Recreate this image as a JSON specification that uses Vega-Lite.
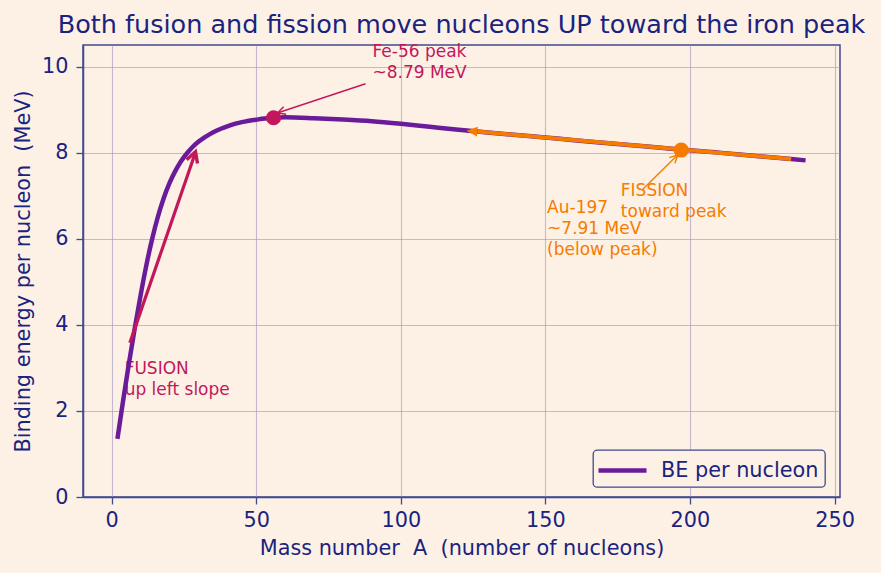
{
  "$schema": "https://vega.github.io/schema/vega-lite/v6.json",
  "width": 757,
  "height": 452,
  "autosize": {"type": "none"},
  "padding": {"left": 83, "top": 45, "right": 41, "bottom": 76},
  "background": "#fdf1e6",
  "title": {
    "text": "Both fusion and fission move nucleons UP toward the iron peak",
    "fontSize": 25.5,
    "font": "DejaVu Sans",
    "fontWeight": "normal",
    "color": "#1a237e",
    "anchor": "middle",
    "baseline": "bottom",
    "offset": 6,
    "dy": 26
  },
  "datasets": {
    "curve": [
      {"A": 2, "BE": 1.35}, {"A": 4, "BE": 2.25}, {"A": 6, "BE": 3.11}, {"A": 8, "BE": 3.92},
      {"A": 10, "BE": 4.68}, {"A": 12, "BE": 5.38}, {"A": 14, "BE": 5.99}, {"A": 16, "BE": 6.51},
      {"A": 18, "BE": 6.94}, {"A": 20, "BE": 7.29}, {"A": 22, "BE": 7.57}, {"A": 24, "BE": 7.80},
      {"A": 26, "BE": 7.98}, {"A": 28, "BE": 8.13}, {"A": 30, "BE": 8.25}, {"A": 32, "BE": 8.35},
      {"A": 34, "BE": 8.43}, {"A": 36, "BE": 8.50}, {"A": 38, "BE": 8.56}, {"A": 40, "BE": 8.61},
      {"A": 42, "BE": 8.655}, {"A": 44, "BE": 8.69}, {"A": 46, "BE": 8.72}, {"A": 48, "BE": 8.745},
      {"A": 50, "BE": 8.765}, {"A": 52, "BE": 8.785}, {"A": 54, "BE": 8.80}, {"A": 56, "BE": 8.81},
      {"A": 60, "BE": 8.82}, {"A": 70, "BE": 8.80}, {"A": 80, "BE": 8.77}, {"A": 90, "BE": 8.73},
      {"A": 100, "BE": 8.67}, {"A": 110, "BE": 8.60}, {"A": 120, "BE": 8.53}, {"A": 130, "BE": 8.47},
      {"A": 140, "BE": 8.41}, {"A": 150, "BE": 8.35}, {"A": 160, "BE": 8.29}, {"A": 170, "BE": 8.23},
      {"A": 180, "BE": 8.17}, {"A": 190, "BE": 8.115}, {"A": 197, "BE": 8.07}, {"A": 210, "BE": 8.0},
      {"A": 220, "BE": 7.94}, {"A": 230, "BE": 7.88}, {"A": 240, "BE": 7.82}
    ],
    "fissionArrow": [{"A": 235, "BE": 7.85}, {"A": 126.5, "BE": 8.49}],
    "fissionHead": [{"A": 122.7, "BE": 8.51}],
    "fusionArrow": [{"A": 6.3, "BE": 3.58}, {"A": 28.8, "BE": 7.97}],
    "fusionHead": [{"A": 29.0, "BE": 8.02}],
    "feArrow": [{"A": 87.8, "BE": 9.60}, {"A": 57.3, "BE": 8.92}],
    "feHead": [{"A": 57.3, "BE": 8.92}],
    "auArrow": [{"A": 183.7, "BE": 7.15}, {"A": 195.8, "BE": 7.95}],
    "auHead": [{"A": 195.8, "BE": 7.95}],
    "fePoint": [{"A": 56, "BE": 8.81}],
    "auPoint": [{"A": 197, "BE": 8.06}],
    "crimsonText": [
      {"A": 90.2, "BE": 10.22, "label": "Fe-56 peak\n~8.79 MeV"},
      {"A": 4.5, "BE": 2.85, "label": "FUSION\nup left slope"}
    ],
    "orangeText": [
      {"A": 176.1, "BE": 6.99, "label": "FISSION\ntoward peak"},
      {"A": 150.6, "BE": 6.59, "label": "Au-197\n~7.91 MeV\n(below peak)"}
    ]
  },
  "layer": [
    {
      "data": {"name": "crimsonText"},
      "mark": {"type": "text", "align": "left", "baseline": "alphabetic", "fontSize": 17, "lineBreak": "\n", "lineHeight": 21, "color": "#c2185b", "font": "DejaVu Sans"},
      "encoding": {
        "x": {"field": "A", "type": "quantitative", "scale": {"domain": [-9.9, 251.9], "nice": false, "zero": false},
              "axis": {"title": "Mass number\u00a0 A\u00a0 (number of nucleons)", "values": [0, 50, 100, 150, 200, 250], "grid": true}},
        "y": {"field": "BE", "type": "quantitative", "scale": {"domain": [0, 10.5], "nice": false, "zero": false},
              "axis": {"title": "Binding energy per nucleon\u00a0 (MeV)", "values": [0, 2, 4, 6, 8, 10], "grid": true}},
        "text": {"field": "label", "type": "nominal"}
      }
    },
    {
      "data": {"name": "orangeText"},
      "mark": {"type": "text", "align": "left", "baseline": "alphabetic", "fontSize": 17, "lineBreak": "\n", "lineHeight": 21, "color": "#f57c00", "font": "DejaVu Sans"},
      "encoding": {
        "x": {"field": "A", "type": "quantitative"},
        "y": {"field": "BE", "type": "quantitative"},
        "text": {"field": "label", "type": "nominal"}
      }
    },
    {
      "data": {"name": "curve"},
      "mark": {"type": "line", "strokeWidth": 4.5, "interpolate": "monotone", "strokeCap": "butt"},
      "encoding": {
        "x": {"field": "A", "type": "quantitative"},
        "y": {"field": "BE", "type": "quantitative"},
        "color": {
          "datum": "BE per nucleon",
          "scale": {"range": ["#6a1b9a"]},
          "legend": {
            "orient": "none", "legendX": 510, "legendY": 405, "title": null,
            "symbolType": "M-2,0H2", "symbolSize": 576, "symbolStrokeWidth": 4.5,
            "symbolOffset": 9, "labelOffset": 24, "labelFontSize": 20.8, "labelColor": "#1a237e",
            "labelFont": "DejaVu Sans",
            "fillColor": "#fdf1e6", "strokeColor": "#3f4a8f", "padding": 6, "cornerRadius": 4
          }
        }
      }
    },
    {
      "data": {"name": "fissionArrow"},
      "mark": {"type": "line", "strokeWidth": 4, "color": "#f57c00"},
      "encoding": {"x": {"field": "A", "type": "quantitative"}, "y": {"field": "BE", "type": "quantitative"}}
    },
    {
      "data": {"name": "fissionHead"},
      "mark": {"type": "point", "shape": "M0,0L-0.45,1L0.45,1Z", "size": 484, "filled": true, "opacity": 1, "color": "#f57c00", "angle": 275},
      "encoding": {"x": {"field": "A", "type": "quantitative"}, "y": {"field": "BE", "type": "quantitative"}}
    },
    {
      "data": {"name": "fusionArrow"},
      "mark": {"type": "line", "strokeWidth": 3.2, "color": "#c2185b"},
      "encoding": {"x": {"field": "A", "type": "quantitative"}, "y": {"field": "BE", "type": "quantitative"}}
    },
    {
      "data": {"name": "fusionHead"},
      "mark": {"type": "point", "shape": "M-0.55,1L0,0L0.55,1", "size": 440, "filled": false, "opacity": 1, "color": "#c2185b", "strokeWidth": 3.4, "angle": 19},
      "encoding": {"x": {"field": "A", "type": "quantitative"}, "y": {"field": "BE", "type": "quantitative"}}
    },
    {
      "data": {"name": "feArrow"},
      "mark": {"type": "line", "strokeWidth": 1.4, "color": "#c2185b"},
      "encoding": {"x": {"field": "A", "type": "quantitative"}, "y": {"field": "BE", "type": "quantitative"}}
    },
    {
      "data": {"name": "feHead"},
      "mark": {"type": "point", "shape": "M-0.5,1L0,0L0.5,1", "size": 256, "filled": false, "opacity": 1, "color": "#c2185b", "strokeWidth": 1.4, "angle": 251.6},
      "encoding": {"x": {"field": "A", "type": "quantitative"}, "y": {"field": "BE", "type": "quantitative"}}
    },
    {
      "data": {"name": "auArrow"},
      "mark": {"type": "line", "strokeWidth": 1.4, "color": "#f57c00"},
      "encoding": {"x": {"field": "A", "type": "quantitative"}, "y": {"field": "BE", "type": "quantitative"}}
    },
    {
      "data": {"name": "auHead"},
      "mark": {"type": "point", "shape": "M-0.5,1L0,0L0.5,1", "size": 256, "filled": false, "opacity": 1, "color": "#f57c00", "strokeWidth": 1.4, "angle": 45.3},
      "encoding": {"x": {"field": "A", "type": "quantitative"}, "y": {"field": "BE", "type": "quantitative"}}
    },
    {
      "data": {"name": "fePoint"},
      "mark": {"type": "point", "shape": "circle", "size": 230, "filled": true, "opacity": 1, "color": "#c2185b"},
      "encoding": {"x": {"field": "A", "type": "quantitative"}, "y": {"field": "BE", "type": "quantitative"}}
    },
    {
      "data": {"name": "auPoint"},
      "mark": {"type": "point", "shape": "circle", "size": 230, "filled": true, "opacity": 1, "color": "#f57c00"},
      "encoding": {"x": {"field": "A", "type": "quantitative"}, "y": {"field": "BE", "type": "quantitative"}}
    }
  ],
  "config": {
    "font": "DejaVu Sans",
    "view": {"stroke": "#3f4a8f", "strokeWidth": 1.5},
    "axis": {
      "labelFont": "DejaVu Sans", "titleFont": "DejaVu Sans",
      "labelFontSize": 20.8, "titleFontSize": 20.8,
      "labelColor": "#1a237e", "titleColor": "#1a237e", "titleFontWeight": "normal",
      "domainColor": "#3f4a8f", "domainWidth": 1.5,
      "tickColor": "#3f4a8f", "tickSize": 7, "tickWidth": 1.3,
      "gridColor": "#9d93bf", "gridOpacity": 0.6, "gridWidth": 1.1
    },
    "axisX": {"labelPadding": 6, "titlePadding": 9},
    "axisY": {"labelPadding": 8, "titlePadding": 8},
    "legend": {"strokeWidth": 1.3}
  }
}
